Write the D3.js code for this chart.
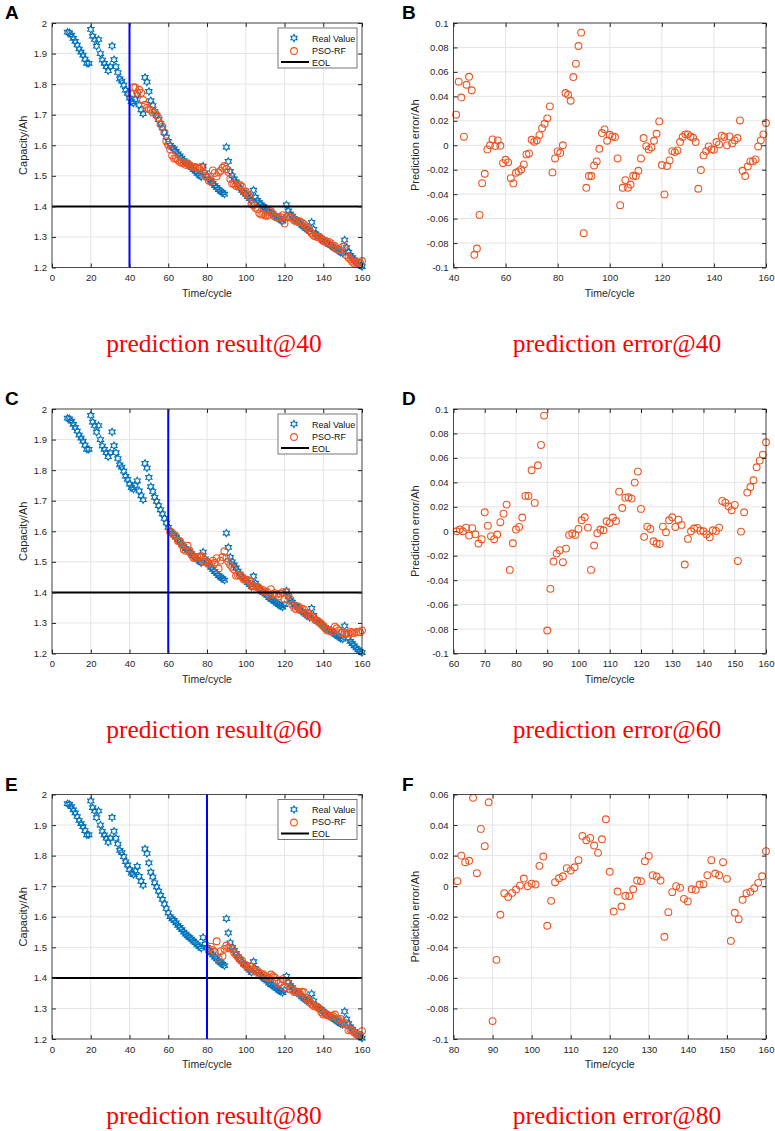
<!DOCTYPE html>
<html>
<head>
<meta charset="utf-8">
<script src="https://cdn.jsdelivr.net/npm/d3@7"></script>
<style>
  body { margin:0; background:#fff; }
  svg { display:block; font-family:"Liberation Sans", Arial, Helvetica, sans-serif; }
</style>
</head>
<body>
<div id="fig"></div>
<script>
// measured capacity, cycles 8..160
var realStart = 8;
var realCap = [
  1.970,1.968,1.960,1.950,1.940,1.928,1.915,1.905,1.895,1.882,1.868,1.868,            // 8-19
  1.979,1.957,1.946,1.924,1.946,1.900,1.879,1.868,1.857,1.844,1.857,                  // 20-30
  1.925,1.880,1.857,1.838,1.817,1.810,1.797,1.780,1.770,1.754,                        // 31-40
  1.743,1.738,1.750,1.765,1.732,1.716,1.703,1.822,1.807,1.776,                        // 41-50
  1.746,1.730,1.711,1.698,1.684,1.670,1.657,1.642,1.627,1.613,                        // 51-60
  1.600,1.593,1.588,1.580,1.572,1.565,1.558,1.550,1.543,1.537,                        // 61-70
  1.532,1.527,1.520,1.515,1.508,1.502,1.497,1.532,1.510,1.500,                        // 71-80
  1.490,1.482,1.475,1.468,1.462,1.455,1.450,1.445,1.440,1.594,                        // 81-90
  1.547,1.515,1.500,1.490,1.480,1.470,1.460,1.452,1.445,1.440,                        // 91-100
  1.432,1.425,1.418,1.453,1.430,1.420,1.412,1.405,1.400,1.395,                        // 101-110
  1.390,1.383,1.378,1.375,1.370,1.365,1.360,1.356,1.352,1.360,                        // 111-120
  1.405,1.385,1.375,1.368,1.360,1.355,1.350,1.344,1.338,1.333,                        // 121-130
  1.328,1.323,1.318,1.348,1.325,1.310,1.305,1.300,1.296,1.290,                        // 131-140
  1.285,1.280,1.276,1.272,1.268,1.263,1.259,1.255,1.250,1.247,                        // 141-150
  1.290,1.265,1.250,1.240,1.232,1.225,1.218,1.212,1.207,1.203                         // 151-160
];

// prediction error (PSO-RF minus real), starting the cycle after each start point
var err40 = [
  0.025,0.052,0.039,0.007,0.0495,0.056,0.045,-0.0896,-0.0845,-0.057,
  -0.031,-0.0233,-0.0034,0.0,0.0048,-0.0007,0.004,-0.0004,-0.0146,-0.0119,
  -0.014,-0.0269,-0.0312,-0.0225,-0.0214,-0.0198,-0.0157,-0.0075,-0.0067,0.0045,
  0.0029,0.004,0.0083,0.014,0.0176,0.022,0.0318,-0.0222,-0.0108,-0.005,
  -0.0064,0.0,0.0427,0.0413,0.0364,0.0558,0.0667,0.0812,0.0921,-0.0719,
  -0.0348,-0.0252,-0.0252,-0.0165,-0.0132,-0.0029,0.010,0.013,0.0037,0.0086,
  0.0072,0.0067,-0.0108,-0.049,-0.0348,-0.0285,-0.0348,-0.0321,-0.025,-0.0252,
  -0.0209,-0.0108,0.0059,-0.0007,-0.0034,-0.0018,0.0037,0.0094,0.0195,-0.0162,
  -0.0402,-0.017,-0.0124,-0.0048,-0.0056,-0.0042,0.0026,0.0067,0.0089,0.0089,
  0.0072,0.0061,0.0026,-0.0356,-0.0203,-0.0083,-0.0048,-0.001,-0.0034,-0.0037,
  0.0026,0.0007,0.0078,0.0067,-0.0001,0.0072,0.0015,0.004,0.0059,0.0203,
  -0.0209,-0.0252,-0.0173,-0.0132,-0.0132,-0.0116,-0.001,0.004,0.0089,0.0182
];
var err60 = [
  0,0.0014,0,0.003,-0.0035,0.0025,-0.0025,-0.010,-0.0065,0.0155,
  0.0046,-0.004,-0.0065,-0.0027,0.0074,0.0144,0.0218,-0.0316,-0.0098,0.0014,
  0.0035,0.0112,0.0289,0.0289,0.0499,0.0232,0.054,0.0706,0.0946,-0.0812,
  -0.0471,-0.0248,-0.0183,-0.0155,-0.0253,-0.0142,-0.003,-0.0019,-0.003,0.0019,
  0.009,0.0114,0.003,-0.0316,-0.0117,-0.0016,0.0014,0.0008,0.0082,0.0068,
  0.0112,0.0084,0.0324,0.019,0.0275,0.0278,0.0267,0.0398,0.0488,0.0183,
  -0.0046,0.0038,0.0019,-0.0082,-0.010,-0.0104,0.0038,-0.0008,0.009,0.0114,
  0.0035,0.0095,0.0052,-0.0272,-0.0063,0,0.0022,0.0027,0.0005,0,
  -0.0025,-0.0049,0.0008,0.0003,0.003,0.0248,0.0234,0.0204,0.0172,0.0215,
  -0.0243,-0.0003,0.0155,0.0316,0.0362,0.0417,0.0523,0.0578,0.0627,0.0728
];
var err80 = [
  0.0033,0.020,0.0157,0.0166,0.0578,0.0085,0.0375,0.0262,0.0549,-0.0883,
  -0.0482,-0.0187,-0.0046,-0.007,-0.0044,-0.0022,0.0004,0.005,0,0.0017,
  0.0011,0.0133,0.0194,-0.0259,-0.0096,0.0026,0.0052,0.0065,0.0118,0.0102,
  0.0124,0.017,0.0329,0.0301,0.0316,0.0266,0.0218,0.0307,0.0438,0.0094,
  -0.0166,-0.0035,-0.0133,-0.0063,-0.0065,-0.002,0.0037,0.0033,0.0164,0.0198,
  0.0072,0.0063,0.0037,-0.0331,-0.017,-0.0039,0,-0.0011,-0.0083,-0.010,
  -0.002,-0.0024,0.0011,0.0013,0.0072,0.017,0.0083,0.0072,0.0157,0.0048,
  -0.0358,-0.0174,-0.0216,-0.0089,-0.0046,-0.0037,-0.0013,0.0022,0.0065,0.0229
];

var startPoints = [40, 60, 80];
var errSets = [err40, err60, err80];
var eolCap = 1.4;

var capTicks = [1.2,1.3,1.4,1.5,1.6,1.7,1.8,1.9,2];
var cycTicks = [0,20,40,60,80,100,120,140,160];
var errXTicks = [
  [40,60,80,100,120,140,160],
  [60,70,80,90,100,110,120,130,140,150,160],
  [80,90,100,110,120,130,140,150,160]
];
var errYDomains = [[-0.1,0.1],[-0.1,0.1],[-0.1,0.06]];
var errYTicks = [
  [-0.1,-0.08,-0.06,-0.04,-0.02,0,0.02,0.04,0.06,0.08,0.1],
  [-0.1,-0.08,-0.06,-0.04,-0.02,0,0.02,0.04,0.06,0.08,0.1],
  [-0.1,-0.08,-0.06,-0.04,-0.02,0,0.02,0.04,0.06]
];
var panelLetters = [["A","B"],["C","D"],["E","F"]];

var fig_w = 775, fig_h = 1131;
var row_top = [23, 409, 794.5], ax_h = 244.5;
var left_x = 52, right_x = 453.5, left_w = 310, right_w = 312.5;
var cap_y = [352, 738, 1124];

var blue = "#0072BD", orange = "#EE5521", axis_col = "#262626", grid_col = "#e4e4e4";

var real = realCap.map(function(v,i){ return {t: realStart+i, v: v}; });

var svg = d3.select("#fig").append("svg")
  .attr("width", fig_w)
  .attr("height", fig_h);

// MATLAB-like hexagram marker
var hexagram = {
  draw: function(ctx, size){
    var R = Math.sqrt(size)/2, r = R/Math.sqrt(3);
    for (var i=0;i<12;i++){
      var a = -Math.PI/2 + i*Math.PI/6, rr = (i%2) ? r : R;
      if (i==0) ctx.moveTo(rr*Math.cos(a), rr*Math.sin(a));
      else ctx.lineTo(rr*Math.cos(a), rr*Math.sin(a));
    }
    ctx.closePath();
  }
};
var starPath = d3.symbol().type(hexagram).size(52)();

function fmt(d){ return String(+d.toFixed(3)); }

function frame(g, x, y, xt, yt, w, h){
  g.append("g").attr("class","grid")
    .selectAll("line.gx").data(xt).enter().append("line")
    .attr("x1", function(d){return x(d);}).attr("x2", function(d){return x(d);})
    .attr("y1",0).attr("y2",h)
    .attr("stroke",grid_col).attr("stroke-width",1);
  g.select(".grid")
    .selectAll("line.gy").data(yt).enter().append("line")
    .attr("y1", function(d){return y(d);}).attr("y2", function(d){return y(d);})
    .attr("x1",0).attr("x2",w)
    .attr("stroke",grid_col).attr("stroke-width",1);
}

function axes(g, x, y, xt, yt, w, h){
  var ax = g.append("g").attr("transform","translate(0,"+h+")")
    .call(d3.axisBottom(x).tickValues(xt).tickFormat(fmt).tickSize(-4).tickPadding(7));
  var ay = g.append("g")
    .call(d3.axisLeft(y).tickValues(yt).tickFormat(fmt).tickSize(-4).tickPadding(5));
  var at = g.append("g")
    .call(d3.axisTop(x).tickValues(xt).tickFormat("").tickSize(-4));
  var ar = g.append("g").attr("transform","translate("+w+",0)")
    .call(d3.axisRight(y).tickValues(yt).tickFormat("").tickSize(-4));
  [ax,ay,at,ar].forEach(function(a){
    a.select(".domain").remove();
    a.selectAll("line").attr("stroke",axis_col);
    a.selectAll("text").attr("fill",axis_col).attr("font-size","9.5px")
      .attr("font-family","'Liberation Sans', Arial, sans-serif");
  });
  g.append("rect").attr("width",w).attr("height",h)
    .attr("fill","none").attr("stroke",axis_col).attr("stroke-width",0.8);
}

function labels(g, w, h, ylab){
  g.append("text")
    .attr("x", w/2).attr("y", h+29)
    .attr("text-anchor","middle").attr("font-size","10.5px").attr("fill",axis_col)
    .text("Time/cycle");
  g.append("text")
    .attr("transform","translate(-25,"+(h/2)+") rotate(-90)")
    .attr("text-anchor","middle").attr("font-size","11px").attr("fill",axis_col)
    .text(ylab);
}

startPoints.forEach(function(sp, row){
  var err = errSets[row];
  var pred = err.map(function(e,i){
    var t = sp+1+i;
    return {t: t, v: realCap[t-realStart] + e};
  });
  var errPts = err.map(function(e,i){ return {t: sp+1+i, v: e}; });

  // ---- capacity panel
  var g = svg.append("g").attr("transform","translate("+left_x+","+row_top[row]+")");
  var x = d3.scaleLinear().domain([0,160]).range([0,left_w]);
  var y = d3.scaleLinear().domain([1.2,2]).range([ax_h,0]);
  frame(g, x, y, cycTicks, capTicks, left_w, ax_h);

  var plot = g.append("g");
  plot.selectAll("path.real").data(real).enter().append("path")
    .attr("class","real")
    .attr("d", starPath)
    .attr("transform", function(d){ return "translate("+x(d.t)+","+y(d.v)+")"; })
    .attr("fill","none").attr("stroke",blue).attr("stroke-width",1.1);
  plot.selectAll("circle.pred").data(pred).enter().append("circle")
    .attr("class","pred")
    .attr("cx", function(d){return x(d.t);}).attr("cy", function(d){return y(d.v);})
    .attr("r",3.4)
    .attr("fill","none").attr("stroke",orange).attr("stroke-width",1.1);
  plot.append("line")
    .attr("x1",0).attr("x2",left_w).attr("y1",y(eolCap)).attr("y2",y(eolCap))
    .attr("stroke","#000").attr("stroke-width",2);
  plot.append("line")
    .attr("x1",x(sp)).attr("x2",x(sp)).attr("y1",0).attr("y2",ax_h)
    .attr("stroke","#0000ff").attr("stroke-width",2);

  axes(g, x, y, cycTicks, capTicks, left_w, ax_h);
  labels(g, left_w, ax_h, "Capacity/Ah");

  // legend
  var lg = g.append("g").attr("transform","translate("+(left_w-84)+",5)");
  lg.append("rect").attr("width",79).attr("height",40)
    .attr("fill","#fff").attr("stroke","#555").attr("stroke-width",0.8);
  lg.append("path").attr("d",starPath).attr("transform","translate(16,10)")
    .attr("fill","none").attr("stroke",blue).attr("stroke-width",1.1);
  lg.append("circle").attr("cx",16).attr("cy",23).attr("r",3.4)
    .attr("fill","none").attr("stroke",orange).attr("stroke-width",1.1);
  lg.append("line").attr("x1",3).attr("x2",31).attr("y1",34).attr("y2",34)
    .attr("stroke","#000").attr("stroke-width",2);
  lg.selectAll("text").data(["Real Value","PSO-RF","EOL"]).enter().append("text")
    .attr("x",34).attr("y",function(d,i){ return 13.5 + i*12; })
    .attr("font-size","9px").attr("fill","#111")
    .text(function(d){return d;});

  svg.append("text").attr("x",5).attr("y",row_top[row]-4)
    .attr("font-size","19px").attr("font-weight","bold").text(panelLetters[row][0]);

  // ---- error panel
  var g2 = svg.append("g").attr("transform","translate("+right_x+","+row_top[row]+")");
  var x2 = d3.scaleLinear().domain([sp,160]).range([0,right_w]);
  var y2 = d3.scaleLinear().domain(errYDomains[row]).range([ax_h,0]);
  frame(g2, x2, y2, errXTicks[row], errYTicks[row], right_w, ax_h);
  g2.append("g").selectAll("circle").data(errPts).enter().append("circle")
    .attr("cx", function(d){return x2(d.t);}).attr("cy", function(d){return y2(d.v);})
    .attr("r",3.4)
    .attr("fill","none").attr("stroke",orange).attr("stroke-width",1.1);
  axes(g2, x2, y2, errXTicks[row], errYTicks[row], right_w, ax_h);
  labels(g2, right_w, ax_h, "Prediction error/Ah");
  g2.select("text[transform]").attr("transform","translate(-35,"+(ax_h/2)+") rotate(-90)");

  svg.append("text").attr("x",402).attr("y",row_top[row]-4)
    .attr("font-size","19px").attr("font-weight","bold").text(panelLetters[row][1]);

  // captions
  svg.append("text").attr("x",214).attr("y",cap_y[row])
    .attr("text-anchor","middle")
    .attr("font-family","'Liberation Serif','Times New Roman',serif")
    .attr("font-size","25.5px").attr("fill","#ff0000")
    .text("prediction result@"+sp);
  svg.append("text").attr("x",617).attr("y",cap_y[row])
    .attr("text-anchor","middle")
    .attr("font-family","'Liberation Serif','Times New Roman',serif")
    .attr("font-size","25.5px").attr("fill","#ff0000")
    .text("prediction error@"+sp);
});
</script>
</body>
</html>
